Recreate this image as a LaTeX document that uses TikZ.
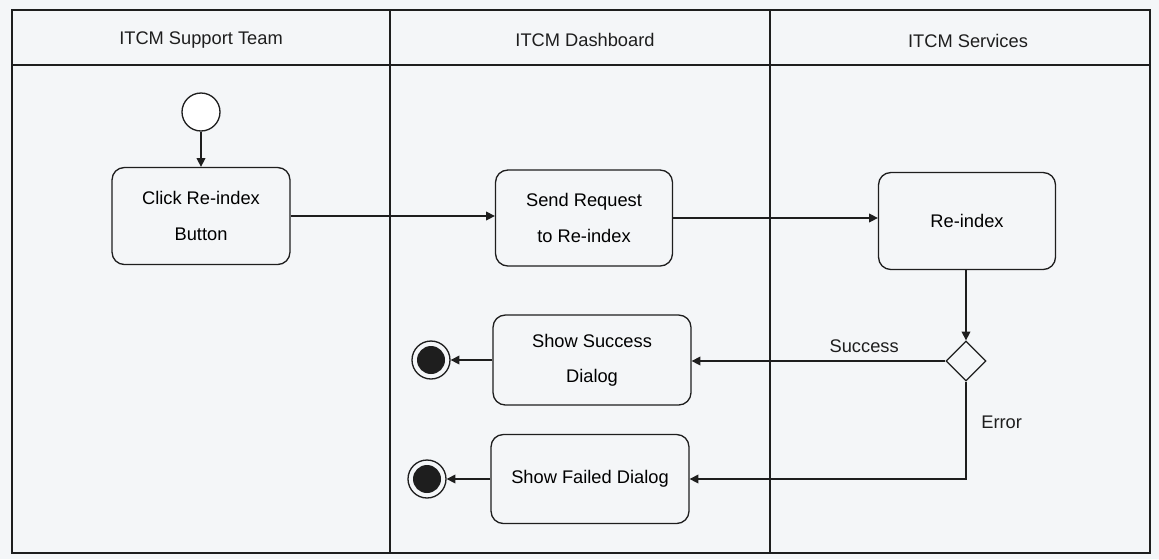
\documentclass[tikz,border=0pt]{standalone}
\usepackage{fontspec}
\setmainfont{Liberation Sans}
\usepackage{tikz}
\usetikzlibrary{arrows.meta,positioning,shapes.geometric}
\definecolor{paper}{RGB}{244,246,248}
\definecolor{ink}{RGB}{30,30,30}
\tikzset{
  lane/.style={draw=ink, line width=1pt},
  act/.style={draw=ink, fill=paper, rounded corners=7pt, align=center, line width=0.75pt, inner sep=3pt, font=\fontsize{10.4}{20}\selectfont},
  lanetitle/.style={font=\fontsize{10.4}{12}\selectfont, text=ink},
  guard/.style={font=\fontsize{10.4}{12}\selectfont, text=ink},
  startnode/.style={circle, draw=ink, fill=white, line width=0.75pt, minimum size=0.76cm, inner sep=0pt},
  endnode/.style={circle, draw=ink, fill=paper, line width=0.75pt, minimum size=0.76cm, inner sep=0pt,
    path picture={\fill[ink] (path picture bounding box.center) circle (0.28cm);}},
  decision/.style={diamond, aspect=1, draw=ink, fill=paper, line width=0.75pt, minimum size=0.8cm, inner sep=0pt},
  arrow/.style={-{Triangle[length=5pt,width=5pt]}, line width=0.75pt, draw=ink}
}

\begin{document}
\begin{tikzpicture}[x=0.02cm, y=-0.02cm]
\useasboundingbox (0,0) rectangle (1159,559);
\fill[paper] (0,0) rectangle (1159,559);
% swimlanes
\draw[lane] (12,10) rectangle (1150,553);
\draw[lane] (12,65) -- (1150,65);
\draw[lane] (390,10) -- (390,553);
\draw[lane] (770,10) -- (770,553);
\node[lanetitle] (t1) at (201,40) {ITCM Support Team};
\node[lanetitle] (t2) at (585,40) {ITCM Dashboard};
\node[lanetitle] (t3) at (968,41) {ITCM Services};
% activities
\node[startnode] (start) at (201,112) {};
\node[act, minimum width=3.56cm, minimum height=1.94cm] (click) at (201,216) {Click Re-index\\Button};
\node[act, minimum width=3.54cm, minimum height=1.92cm] (send) at (584,218) {Send Request\\to Re-index};
\node[act, minimum width=3.54cm, minimum height=1.94cm] (reidx) at (967,221) {Re-index};
\node[decision] (dec) at (966,361) {};
\node[act, minimum width=3.96cm, minimum height=1.8cm] (succ) at (592,360) {Show Success\\Dialog};
\node[act, minimum width=3.96cm, minimum height=1.78cm] (fail) at (590,479) {Show Failed Dialog};
\node[endnode] (end1) at (431,360) {};
\node[endnode] (end2) at (427,479) {};
\draw[arrow] (start) -- (click);
\draw[arrow] (click.east) -- (click.east -| send.west);
\draw[arrow] (send.east) -- (send.east -| reidx.west);
\draw[arrow] (reidx.south -| dec.north) -- (dec.north);
\draw[arrow] (dec.west) -- node[guard, pos=0.32, above=1pt] {Success} (dec.west -| succ.east);
\draw[arrow] (dec.south) |- node[guard, pos=0.21, right=5pt] {Error} (fail.east);
\draw[arrow] (succ) -- (end1);
\draw[arrow] (fail) -- (end2);
\end{tikzpicture}
\end{document}
